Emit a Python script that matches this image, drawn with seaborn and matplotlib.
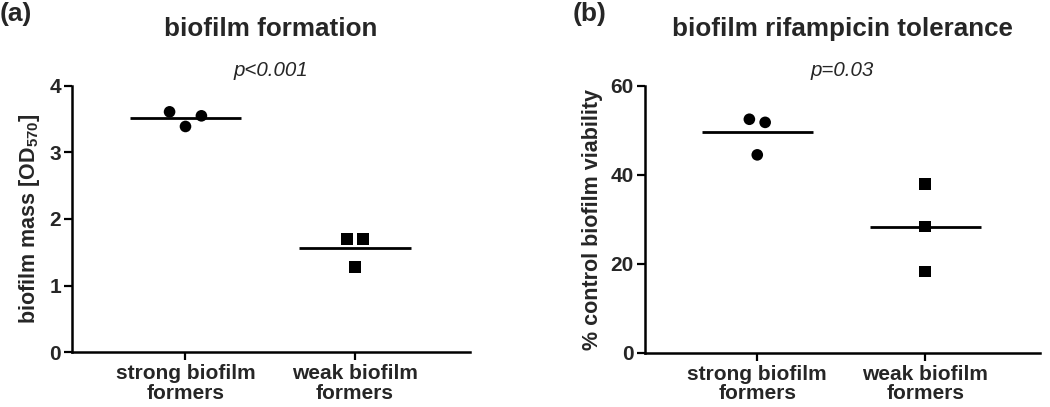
import numpy as np
import pandas as pd
import seaborn as sns
import matplotlib.pyplot as plt

plt.switch_backend('Agg')

groups = ["strong biofilm\nformers", "weak biofilm\nformers"]

# biofilm mass, OD570
mass_strong = [3.61, 3.39, 3.55]
mass_weak = [1.70, 1.28, 1.70]
mass_ticks = [0, 1, 2, 3, 4]

# % control biofilm viability after rifampicin
viab_strong = [52.5, 44.5, 51.8]
viab_weak = [38.0, 28.4, 18.3]
viab_ticks = [0, 20, 40, 60]

sns.set_theme(style="ticks")
plt.rcParams['font.family'] = ['Liberation Sans', 'DejaVu Sans']
plt.rcParams['font.weight'] = 'bold'
plt.rcParams['mathtext.fontset'] = 'custom'
plt.rcParams['mathtext.rm'] = 'Liberation Sans:bold'
plt.rcParams['mathtext.bf'] = 'Liberation Sans:bold'
plt.rcParams['mathtext.it'] = 'Liberation Sans:italic:bold'


def spread_points(values, ymax, gap=0.06, step=0.094):
    # points closer than gap (fraction of axis) share a row and are spread sideways
    values = np.asarray(values, dtype=float)
    order = np.argsort(values)
    rows = [[order[0]]]
    for i in order[1:]:
        if (values[i] - values[rows[-1][-1]]) / ymax < gap:
            rows[-1].append(i)
        else:
            rows.append([i])
    offsets = np.zeros(len(values))
    for row in rows:
        row = sorted(row)
        n = len(row)
        for k, i in enumerate(row):
            offsets[i] = (k - (n - 1) / 2) * step
    return offsets


def draw_panel(ax, strong, weak, ticks, title, ptext, ylabel):
    ymax = ticks[-1]
    recs = []
    for gi, vals in enumerate([strong, weak]):
        off = spread_points(vals, ymax)
        for v, o in zip(vals, off):
            recs.append({"x": gi + o, "value": v, "group": groups[gi]})
    df = pd.DataFrame(recs)
    sns.scatterplot(data=df, x="x", y="value", style="group",
                    markers={groups[0]: "o", groups[1]: "s"},
                    color="black", s=70, edgecolor="none", legend=False, ax=ax)
    for gi, vals in enumerate([strong, weak]):
        ax.hlines(np.mean(vals), gi - 0.33, gi + 0.33, color="black", lw=2)

    ax.set_xlim(-0.67, 1.68)
    ax.set_ylim(0, ymax)
    ax.set_yticks(ticks)
    ax.set_xticks([0, 1])
    ax.set_xticklabels(groups, fontsize=15, fontweight="bold", linespacing=1.05)
    ax.tick_params(axis="y", labelsize=15, width=1.6, length=5.5, pad=2.5, color="black")
    ax.tick_params(axis="x", width=1.6, length=5.5, pad=3, color="black")
    for lbl in ax.get_yticklabels():
        lbl.set_fontweight("bold")
    ax.set_xlabel("")
    ax.set_ylabel(ylabel, fontsize=15.5, fontweight="bold", labelpad=5)
    sns.despine(ax=ax)
    for sp in ["left", "bottom"]:
        ax.spines[sp].set_linewidth(1.8)
        ax.spines[sp].set_color("black")
    ax.set_title(title, fontsize=18.7, fontweight="bold", y=1.182, va="center")
    ax.text(0.5, 1.056, ptext, transform=ax.transAxes, ha="center", va="center",
            fontsize=14.8, fontstyle="italic", fontweight="normal")


fig = plt.figure(figsize=(10.5, 4.07), dpi=100)
ax1 = fig.add_axes([0.0686, 0.135, 0.379, 0.654])
ax2 = fig.add_axes([0.614, 0.133, 0.376, 0.656])

draw_panel(ax1, mass_strong, mass_weak, mass_ticks, "biofilm formation", "p<0.001",
           r"biofilm mass [OD$_{570}$]")
draw_panel(ax2, viab_strong, viab_weak, viab_ticks, "biofilm rifampicin tolerance", "p=0.03",
           "% control biofilm viability")

fig.text(0.0, 0.965, "(a)", fontsize=19, fontweight="bold", ha="left", va="center")
fig.text(0.545, 0.965, "(b)", fontsize=19, fontweight="bold", ha="left", va="center")

fig.savefig("out.png", dpi=100, facecolor="white")
